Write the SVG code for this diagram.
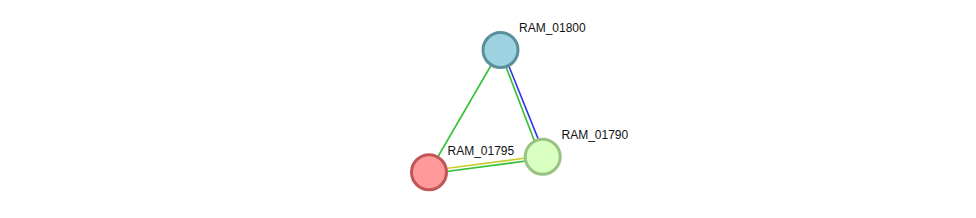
<svg xmlns="http://www.w3.org/2000/svg" width="976" height="218" viewBox="0 0 976 218">
<style>
.e{stroke-width:1.6;fill:none}
.g{stroke:#33c233}
.b{stroke:#3333ee}
.y{stroke:#c8cc33}
.n{stroke-width:3}
text{font-family:"Liberation Sans",Arial,sans-serif;font-size:12px;fill:#111}
</style>
<rect width="976" height="218" fill="#fff"/>
<g id="connectors">
<line class="e g" x1="500" y1="50" x2="429" y2="172"/>
<line class="e b" x1="502.2" y1="49.4" x2="545.2" y2="156.4"/>
<line class="e g" x1="499.8" y1="50.6" x2="540.8" y2="157.6"/>
<line class="e y" x1="428.8" y1="170.8" x2="542.8" y2="155.8"/>
<line class="e g" x1="429.2" y1="173.8" x2="543.2" y2="158.8"/>
</g>
<g id="RAM_01800">
<circle class="n" cx="500.5" cy="50" r="17.5" fill="#9dd3e0" stroke="#5a8f9b"/>
<text x="519" y="32">RAM_01800</text>
</g>
<g id="RAM_01795">
<circle class="n" cx="429" cy="172.3" r="17.5" fill="#ff9a9a" stroke="#c05656"/>
<text x="447.5" y="155">RAM_01795</text>
</g>
<g id="RAM_01790">
<circle class="n" cx="542.7" cy="156.7" r="17.5" fill="#d9ffc1" stroke="#99c383"/>
<text x="561.5" y="138.5">RAM_01790</text>
</g>
</svg>
